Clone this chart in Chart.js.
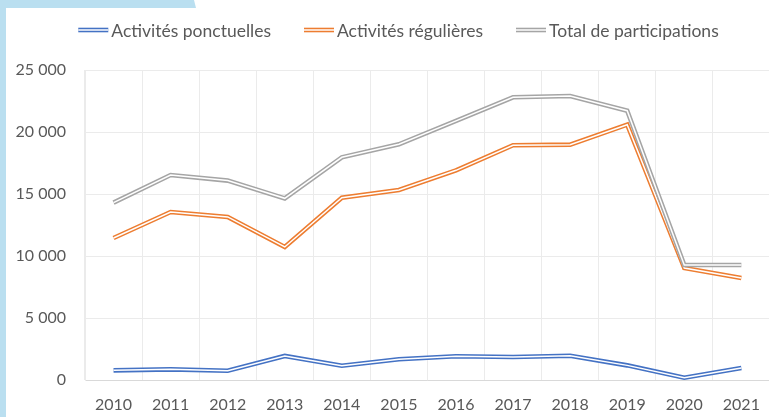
<!DOCTYPE html>
<html>
<head>
<meta charset="utf-8">
<script src="https://cdn.jsdelivr.net/npm/chart.js@4/dist/chart.umd.min.js"></script>
<style>
  html, body { margin: 0; padding: 0; background: #fff; overflow: hidden; width: 769px; height: 417px; }
  #frame {
    position: absolute; left: 0; top: 0; width: 200px; height: 417px;
    background: #badff0;
    clip-path: polygon(0 0, 194px 0, 196px 8px, 6px 8px, 6px 417px, 0 417px);
  }
  #chart { position: absolute; left: 0; top: 0; }
</style>
</head>
<body>
<div id="frame"></div>
<canvas id="chart" width="775" height="417"></canvas>
<script>
// Participation par année
const years = ["2010", "2011", "2012", "2013", "2014", "2015", "2016", "2017", "2018", "2019", "2020", "2021"];
const ponctuelles = [780, 860, 750, 1940, 1150, 1670, 1910, 1860, 1960, 1180, 190, 970];
const regulieres = [11450, 13550, 13150, 10730, 14700, 15320, 16910, 18930, 18980, 20590, 9030, 8230];
const total = [14300, 16530, 16080, 14650, 17960, 19010, 20900, 22800, 22900, 21720, 9270, 9270];

const yTicks = [0, 5000, 10000, 15000, 20000, 25000];

const FONT = "Lato";
const TEXT = "#595959";

function fmt(v) {
  return String(v).replace(/\B(?=(\d{3})+(?!\d))/g, " ");
}

/* white stroke down the middle of each line -> double line look */
const doubleLine = {
  id: "doubleLine",
  afterDatasetDraw(chart, args) {
    const pts = args.meta.data;
    const ctx = chart.ctx;
    ctx.save();
    ctx.strokeStyle = "#ffffff";
    ctx.lineWidth = 1.5;
    ctx.lineJoin = "miter";
    ctx.beginPath();
    pts.forEach((p, i) => i ? ctx.lineTo(p.x, p.y) : ctx.moveTo(p.x, p.y));
    ctx.stroke();
    ctx.restore();
  }
};

/* legend with double-line samples */
const doubleLegend = {
  id: "doubleLegend",
  afterDraw(chart) {
    const ctx = chart.ctx;
    const sets = chart.data.datasets;
    const sample = 30, gap = 3, spacing = 33, cy = 30, cx = 398.5;
    ctx.save();
    ctx.font = "17.5px " + FONT;
    ctx.textBaseline = "middle";
    const widths = sets.map(d => ctx.measureText(d.label).width);
    const totalW = widths.reduce((a, w) => a + sample + gap + w, 0) + spacing * (sets.length - 1);
    let x = cx - totalW / 2;
    sets.forEach((d, i) => {
      ctx.strokeStyle = d.borderColor;
      ctx.lineWidth = 4.6;
      ctx.beginPath(); ctx.moveTo(x, cy); ctx.lineTo(x + sample, cy); ctx.stroke();
      ctx.strokeStyle = "#fff";
      ctx.lineWidth = 1.5;
      ctx.beginPath(); ctx.moveTo(x, cy); ctx.lineTo(x + sample, cy); ctx.stroke();
      ctx.fillStyle = TEXT;
      ctx.fillText(d.label, x + sample + gap, cy + 1);
      x += sample + gap + widths[i] + spacing;
    });
    ctx.restore();
  }
};

const ds = (label, data, color, order) => ({
  label, data, order,
  borderColor: color,
  backgroundColor: color,
  borderWidth: 4.6,
  pointRadius: 0,
  tension: 0,
  fill: false
});

new Chart(document.getElementById("chart"), {
  type: "line",
  data: {
    labels: years,
    datasets: [
      ds("Activités ponctuelles", ponctuelles, "#4472c4", 3),
      ds("Activités régulières", regulieres, "#ed7d31", 2),
      ds("Total de participations", total, "#a5a5a5", 1)
    ]
  },
  plugins: [doubleLine, doubleLegend],
  options: {
    responsive: false,
    animation: false,
    layout: { padding: { top: 70, right: 2, left: 0, bottom: 0 } },
    plugins: {
      legend: { display: false },
      tooltip: { enabled: false }
    },
    scales: {
      x: {
        offset: true,
        grid: { offset: true, color: "#ebebeb", drawTicks: false },
        border: { color: "#d9d9d9" },
        ticks: { color: TEXT, font: { family: FONT, size: 16 }, padding: 15, maxRotation: 0 },
        afterFit(s) { s.height = 37; }
      },
      y: {
        min: 0,
        max: 25000,
        afterBuildTicks(s) { s.ticks = yTicks.map(v => ({ value: v })); },
        grid: { color: "#ebebeb", drawTicks: false },
        border: { color: "#ebebeb" },
        ticks: { color: TEXT, font: { family: FONT, size: 16 }, padding: 19, callback: v => fmt(v) },
        afterFit(s) { s.width = 85; }
      }
    }
  }
});
</script>
</body>
</html>
